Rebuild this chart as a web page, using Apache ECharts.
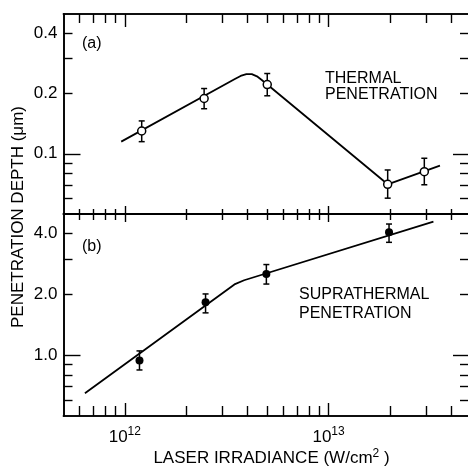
<!DOCTYPE html>
<html>
<head>
<meta charset="utf-8">
<script src="https://cdn.jsdelivr.net/npm/echarts@6/dist/echarts.min.js"></script>
<style>
html,body{margin:0;padding:0;background:#fff;}
#chart{width:468px;height:467px;}
</style>
</head>
<body>
<div id="chart"></div>
<script>
// ---- axis ranges ----
const xRange = [5e11, 5e13];
const yRangeA = [0.05, 0.5];
const yRangeB = [0.5, 5];

// ---- ticks & labels ----
const xMinorTicks = [6e11, 7e11, 8e11, 9e11, 2e12, 3e12, 4e12, 5e12, 6e12, 7e12, 8e12, 9e12, 2e13, 3e13, 4e13];
const xMajorTicks = [1e12, 1e13];
const xTickBase = ['10', '10'];
const xTickExp = ['12', '13'];
const yMinorTicksA = [0.06, 0.07, 0.08, 0.09, 0.2, 0.3, 0.4];
const yMajorTicksA = [0.1];
const yLabelValuesA = [0.1, 0.2, 0.4];
const yLabelsA = ['0.1', '0.2', '0.4'];
const yMinorTicksB = [0.6, 0.7, 0.8, 0.9, 2, 3, 4];
const yMajorTicksB = [1];
const yLabelValuesB = [1, 2, 4];
const yLabelsB = ['1.0', '2.0', '4.0'];

// ---- (a) thermal penetration ----
const thermalX  = [1.21e12, 2.45e12, 5.0e12, 1.95e13, 2.95e13];
const thermalY  = [0.130, 0.189, 0.222, 0.0704, 0.0814];
const thermalLo = [0.115, 0.168, 0.195, 0.060, 0.070];
const thermalHi = [0.146, 0.212, 0.252, 0.083, 0.095];
const thermalFitX = [0.96e12, 3.45e12, 3.7e12, 3.95e12, 4.2e12, 4.45e12, 4.7e12, 5.0e12, 1.95e13, 3.52e13];
const thermalFitY = [0.115, 0.236, 0.245, 0.250, 0.250, 0.244, 0.234, 0.222, 0.0704, 0.0872];

// ---- (b) suprathermal penetration ----
const supraX  = [1.18e12, 2.49e12, 4.95e12, 1.98e13];
const supraY  = [0.94, 1.83, 2.52, 4.06];
const supraLo = [0.845, 1.62, 2.25, 3.62];
const supraHi = [1.05, 2.01, 2.81, 4.46];
const supraFitX = [0.637e12, 3.45e12, 3.85e12, 3.27e13];
const supraFitY = [0.648, 2.24, 2.35, 4.58];

const FONT = 'Liberation Sans, Arial, sans-serif';
const BLACK = '#000';

function nearestLabel(v, vals, labels) {
  let best = 0, bd = Infinity;
  vals.forEach((t, i) => { const d = Math.abs(Math.log(v) - Math.log(t)); if (d < bd) { bd = d; best = i; } });
  return labels[best];
}

function xAx(gridIndex, position, ticks, len, label) {
  return {
    type: 'log', logBase: 10, gridIndex, position, min: xRange[0], max: xRange[1],
    axisLine: { show: true, onZero: false, lineStyle: { color: BLACK, width: 1.6 } },
    axisTick: { show: true, inside: true, length: len, customValues: ticks, lineStyle: { color: BLACK, width: 1.4 } },
    axisLabel: label ? label : { show: false },
    splitLine: { show: false }
  };
}
function yAx(gridIndex, position, range, ticks, len, label) {
  return {
    type: 'log', logBase: 10, gridIndex, position, min: range[0], max: range[1],
    axisLine: { show: true, onZero: false, lineStyle: { color: BLACK, width: 1.6 } },
    axisTick: { show: true, inside: true, length: len, customValues: ticks, lineStyle: { color: BLACK, width: 1.4 } },
    axisLabel: label ? label : { show: false },
    splitLine: { show: false }
  };
}

const xLabel = {
  show: true, customValues: xMajorTicks, margin: 10, color: BLACK,
  formatter: function (v) {
    const i = xMajorTicks.indexOf(nearestLabel(v, xMajorTicks, xMajorTicks));
    return '{b|' + xTickBase[i] + '}{s|' + xTickExp[i] + '}';
  },
  rich: {
    b: { fontFamily: FONT, fontSize: 17, color: BLACK },
    s: { fontFamily: FONT, fontSize: 12, color: BLACK, padding: [0, 0, 10, 0] }
  }
};
function yLabel(vals, labels) {
  return {
    show: true, customValues: vals, margin: 6, color: BLACK, fontFamily: FONT, fontSize: 17,
    formatter: v => nearestLabel(v, vals, labels)
  };
}

const xAxes = [
  xAx(0, 'bottom', xMinorTicks, 5),
  xAx(0, 'bottom', xMajorTicks, 8),
  xAx(0, 'top', xMinorTicks, 9),
  xAx(0, 'top', xMajorTicks, 13),
  xAx(1, 'bottom', xMinorTicks, 10, xLabel),
  xAx(1, 'bottom', xMajorTicks, 13),
  xAx(1, 'top', xMinorTicks, 6),
  xAx(1, 'top', xMajorTicks, 8)
];
const yAxes = [
  yAx(0, 'left', yRangeA, yMinorTicksA, 9, yLabel(yLabelValuesA, yLabelsA)),
  yAx(0, 'left', yRangeA, yMajorTicksA, 17),
  yAx(0, 'right', yRangeA, yMinorTicksA, 11),
  yAx(0, 'right', yRangeA, yMajorTicksA, 18),
  yAx(1, 'left', yRangeB, yMinorTicksB, 9, yLabel(yLabelValuesB, yLabelsB)),
  yAx(1, 'left', yRangeB, yMajorTicksB, 17),
  yAx(1, 'right', yRangeB, yMinorTicksB, 11),
  yAx(1, 'right', yRangeB, yMajorTicksB, 18)
];

function errRender(params, api) {
  const x = api.value(0), lo = api.value(1), hi = api.value(2);
  const a = api.coord([x, lo]), b = api.coord([x, hi]);
  const c = 3;
  const st = { stroke: BLACK, lineWidth: 1.5 };
  return {
    type: 'group', children: [
      { type: 'line', shape: { x1: a[0], y1: a[1], x2: b[0], y2: b[1] }, style: st },
      { type: 'line', shape: { x1: a[0] - c, y1: a[1], x2: a[0] + c, y2: a[1] }, style: st },
      { type: 'line', shape: { x1: b[0] - c, y1: b[1], x2: b[0] + c, y2: b[1] }, style: st }
    ]
  };
}

const zip2 = (a, b) => a.map((v, i) => [v, b[i]]);
const zip3 = (a, b, c) => a.map((v, i) => [v, b[i], c[i]]);

const option = {
  backgroundColor: '#fff',
  animation: false,
  grid: [
    { left: 63.5, right: -3, top: 14, height: 200, outerBoundsMode: 'none', containLabel: false },
    { left: 63.5, right: -3, top: 214, height: 202, outerBoundsMode: 'none', containLabel: false }
  ],
  xAxis: xAxes,
  yAxis: yAxes,
  series: [
    { type: 'line', xAxisIndex: 0, yAxisIndex: 0, data: zip2(thermalFitX, thermalFitY), showSymbol: false,
      lineStyle: { color: BLACK, width: 1.8 }, z: 2 },
    { type: 'custom', xAxisIndex: 0, yAxisIndex: 0, data: zip3(thermalX, thermalLo, thermalHi), renderItem: errRender,
      encode: { x: 0, y: [1, 2] }, z: 3 },
    { type: 'scatter', xAxisIndex: 0, yAxisIndex: 0, data: zip2(thermalX, thermalY), symbol: 'circle', symbolSize: 8,
      itemStyle: { color: '#fff', borderColor: BLACK, borderWidth: 1.5, opacity: 1 }, z: 4 },
    { type: 'line', xAxisIndex: 4, yAxisIndex: 4, data: zip2(supraFitX, supraFitY), showSymbol: false,
      lineStyle: { color: BLACK, width: 1.8 }, z: 2 },
    { type: 'custom', xAxisIndex: 4, yAxisIndex: 4, data: zip3(supraX, supraLo, supraHi), renderItem: errRender,
      encode: { x: 0, y: [1, 2] }, z: 3 },
    { type: 'scatter', xAxisIndex: 4, yAxisIndex: 4, data: zip2(supraX, supraY), symbol: 'circle', symbolSize: 8,
      itemStyle: { color: BLACK, opacity: 1 }, z: 4 }
  ],
  graphic: [
    { type: 'text', x: 82, y: 44, style: { text: '(a)', font: '16px ' + FONT, fill: BLACK, align: 'left', verticalAlign: 'middle', textAlign: 'left', textVerticalAlign: 'middle' } },
    { type: 'text', x: 325, y: 78.5, style: { text: 'THERMAL', font: '16px ' + FONT, fill: BLACK, align: 'left', verticalAlign: 'middle', textAlign: 'left', textVerticalAlign: 'middle' } },
    { type: 'text', x: 325, y: 95, style: { text: 'PENETRATION', font: '16px ' + FONT, fill: BLACK, align: 'left', verticalAlign: 'middle', textAlign: 'left', textVerticalAlign: 'middle' } },
    { type: 'text', x: 82, y: 247, style: { text: '(b)', font: '16px ' + FONT, fill: BLACK, align: 'left', verticalAlign: 'middle', textAlign: 'left', textVerticalAlign: 'middle' } },
    { type: 'text', x: 299, y: 294.5, style: { text: 'SUPRATHERMAL', font: '16px ' + FONT, fill: BLACK, align: 'left', verticalAlign: 'middle', textAlign: 'left', textVerticalAlign: 'middle' } },
    { type: 'text', x: 299, y: 313.5, style: { text: 'PENETRATION', font: '16px ' + FONT, fill: BLACK, align: 'left', verticalAlign: 'middle', textAlign: 'left', textVerticalAlign: 'middle' } },
    { type: 'text', x: 18, y: 217, rotation: Math.PI / 2, style: { text: 'PENETRATION DEPTH (μm)', font: '17px ' + FONT, fill: BLACK, align: 'center', verticalAlign: 'middle', textAlign: 'center', textVerticalAlign: 'middle' } },
    { type: 'text', x: 271.5, y: 458.5, style: { text: 'LASER IRRADIANCE (W/cm{s|2} )', font: '17px ' + FONT, fill: BLACK, align: 'center', verticalAlign: 'middle', textAlign: 'center', textVerticalAlign: 'middle',
      rich: { s: { font: '12px ' + FONT, fill: BLACK, padding: [0, 0, 10, 0] } } } }
  ]
};

const chart = echarts.init(document.getElementById('chart'), null, { renderer: 'canvas' });
chart.setOption(option);
</script>
</body>
</html>
